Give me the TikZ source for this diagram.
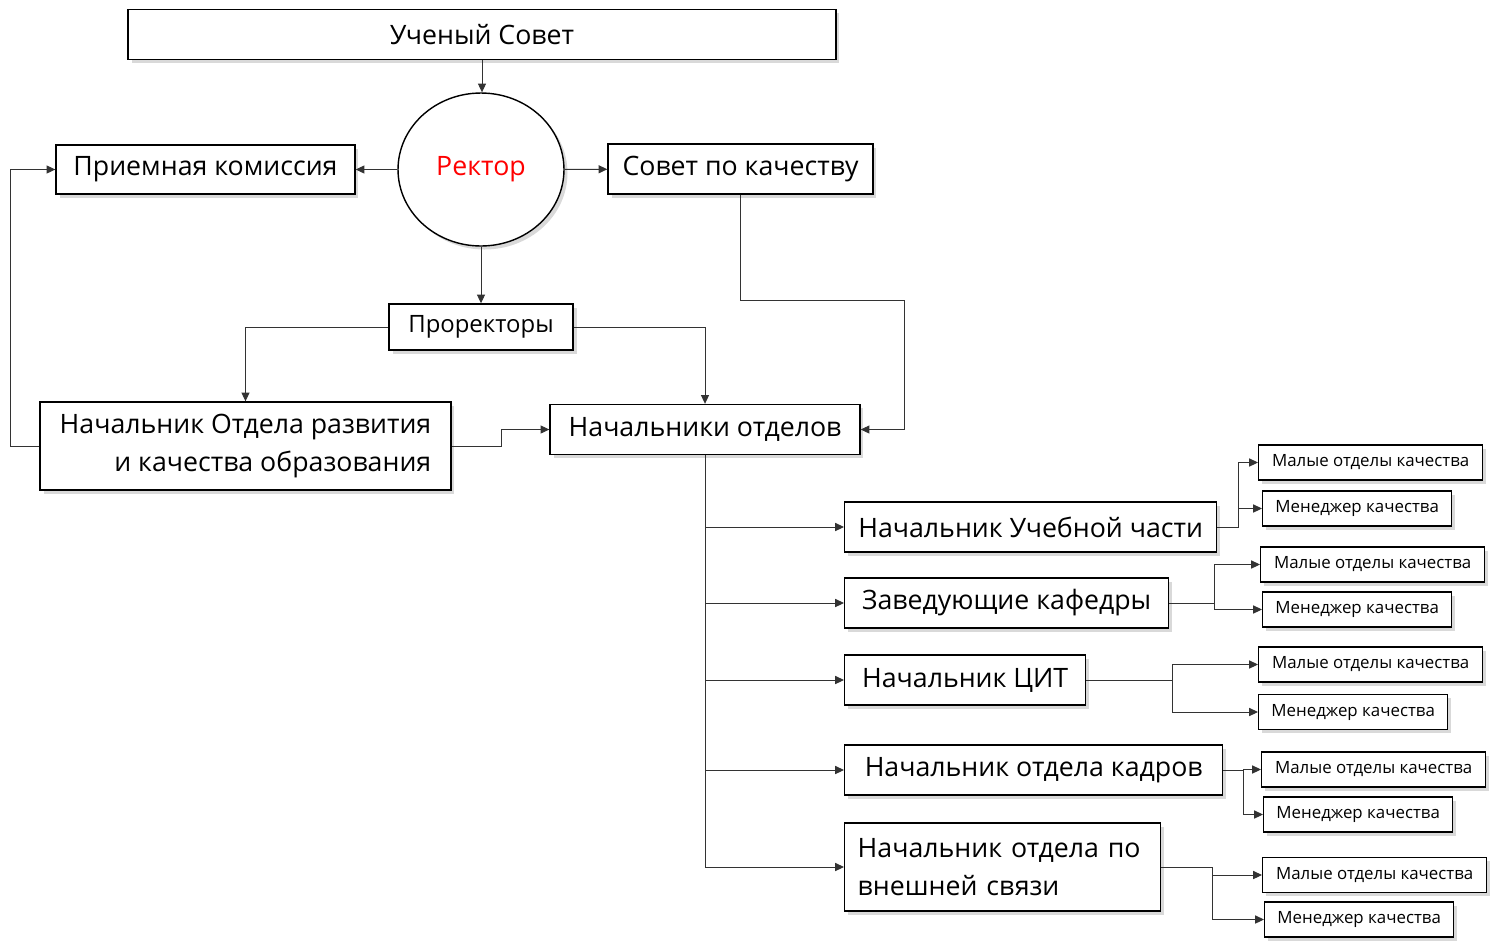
\documentclass[tikz,border=0pt]{standalone}
\usepackage{fontspec}
\setmainfont{Open Sans}
\usetikzlibrary{shapes.geometric,shadows,arrows.meta}

\begin{document}
\begin{tikzpicture}
[x=0.02cm,y=-0.02cm,
  boxDecorate/.style={draw,thick,fill=white,inner sep=0pt,minimum height=1cm,
    font=\fontsize{15.2}{21.6}\selectfont,
    drop shadow={opacity=0.3,shadow xshift=2pt,shadow yshift=-2pt}},%
  smallDecorate/.style={boxDecorate,anchor=west,minimum height=0.7cm,
    font=\fontsize{9.6}{12}\selectfont},%
  lineDecorate/.style={-{Triangle[length=5pt,width=4.6pt]},draw=black!80,line width=0.55pt},%
  linkDecorate/.style={-,draw=black!80,line width=0.55pt}]
\useasboundingbox (0,0) rectangle (1501,941);
%% top part
\node (soviet) at (482,34.5) [boxDecorate,minimum width=14.16cm] {Ученый Совет};
\node (rector) at (481,169.5) [boxDecorate,ellipse,minimum width=3.32cm,
  minimum height=3.06cm,text=red] {Ректор};
\node (priem) at (205.5,169.5) [boxDecorate,minimum width=5.98cm,minimum height=0.98cm]
  {Приемная комиссия};
\node (sovet) at (740.5,169) [boxDecorate,minimum width=5.3cm] {Совет по качеству};
\node (prorek) at (481,327) [boxDecorate,minimum width=3.68cm,minimum height=0.92cm,
  font=\fontsize{13.6}{16}\selectfont] {Проректоры};
\node (razv) at (245.5,446) [boxDecorate,minimum width=8.22cm,minimum height=1.76cm,
  align=right] {Начальник Отдела развития\hspace{0.4em}\\и качества образования};
\node (otdel) at (705,429.5) [boxDecorate,minimum width=6.2cm] {Начальники отделов};
%% heads of units
\foreach \nodename/\y/\w/\label in {
  uch/527/7.44/Начальник Учебной части, kaf/603/6.48/Заведующие кафедры,
  cit/680/4.82/Начальник ЦИТ, kadr/770/7.56/Начальник отдела кадров}
{
  \node (\nodename) at (844,\y) [boxDecorate,anchor=west,minimum width=\w cm] {\label};
}
\node (vnesh) at (844,867) [boxDecorate,anchor=west,minimum height=1.76cm,
  text width=5.8cm,inner xsep=0.26cm,align=left] {Начальник отдела по\\внешней связи};
%% small boxes
\foreach \nodename/\x/\y in {
  m1/1258/462.5, m2/1260/564.5, m3/1258/664.5, m4/1261/769.5, m5/1262/875}
{
  \node (\nodename) at (\x,\y) [smallDecorate,minimum width=4.48cm] {Малые отделы качества};
}
\foreach \nodename/\x/\y in {
  k1/1262/508.5, k2/1262/609.5, k3/1258/712, k4/1263/814.5, k5/1264/919.5}
{
  \node (\nodename) at (\x,\y) [smallDecorate,minimum width=3.78cm] {Менеджер качества};
}
%% turning points
\coordinate (sovetTurn) at (904,300);
\coordinate (leftTurn) at (10,446);
\coordinate (midTurn) at (501,446);
\foreach \nodename/\x/\y in {
  uch/1238/527, kaf/1214/603, cit/1172/680, kadr/1243/770, vnesh/1212/867}
{
  \coordinate (\nodename-fork) at (\x,\y);
}
%% edges
\draw[lineDecorate] (soviet.south) -- (soviet.south |- rector.north);
\draw[lineDecorate] (rector) -- (priem);
\draw[lineDecorate] (rector) -- (sovet);
\draw[lineDecorate] (rector) -- (prorek);
\draw[lineDecorate] (prorek.west) -| (razv.north);
\draw[lineDecorate] (prorek.east) -| (otdel.north);
\draw[lineDecorate] (sovet.south) |- (sovetTurn) |- (otdel.east);
\draw[lineDecorate] (razv.west) -- (leftTurn) |- (priem.west);
\draw[lineDecorate] (razv.east) -- (midTurn) |- (otdel.west);
\draw[linkDecorate] (otdel.south) -- (otdel.south |- vnesh.west);
\foreach \endnode in {uch, kaf, cit, kadr, vnesh}
{
  \draw[lineDecorate] (otdel.south |- \endnode.west) -- (\endnode.west);
}
\foreach \startnode/\endnode in {
  uch/m1, uch/k1, kaf/m2, kaf/k2, cit/m3, cit/k3, kadr/m4, kadr/k4, vnesh/m5, vnesh/k5}
{
  \draw[lineDecorate] (\startnode.east) -- (\startnode-fork) |- (\endnode.west);
}
\end{tikzpicture}
\end{document}
